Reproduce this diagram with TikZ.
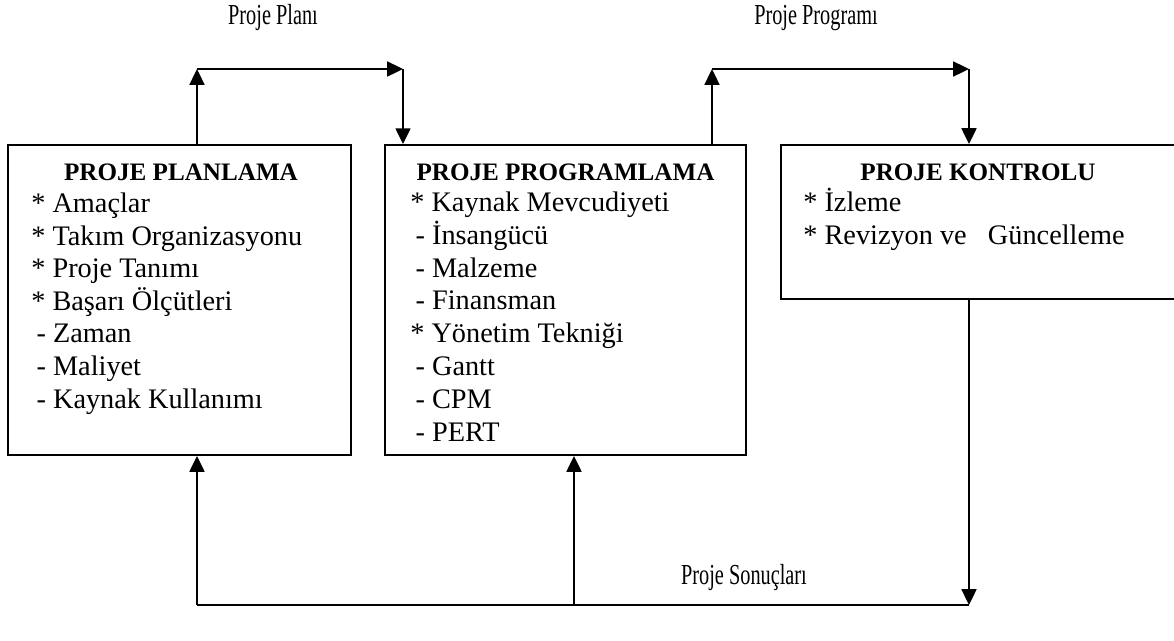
\documentclass[tikz,border=0pt]{standalone}
\usepackage{fontspec}
\setmainfont{Liberation Serif}
\newfontfamily\narrowserif[FakeStretch=0.7]{Liberation Serif}
\usetikzlibrary{arrows.meta,positioning}

\begin{document}
\begin{tikzpicture}[x=0.02cm, y=-0.02cm,
    box/.style={draw, black, line width=1.1pt, inner sep=0pt},
    head/.style={font=\bfseries\fontsize{14.3}{17}\selectfont},
    entry/.style={anchor=base west, inner sep=0pt, font=\fontsize{16.1}{18}\selectfont},
    tag/.style={font=\narrowserif\fontsize{16.5}{18}\selectfont},
    flow/.style={black, line width=1.1pt, -{Triangle[length=9pt,width=8.5pt]}}]
    \useasboundingbox (0,0) rectangle (1174,640);

    \node[box, minimum width=6.86cm, minimum height=6.2cm] (plan) at (179.5,300) {};
    \node[box, minimum width=7.22cm, minimum height=6.2cm] (prog) at (565.5,300) {};
    \node[box, minimum width=7.9cm, minimum height=3.08cm] (ctrl) at (978.5,222) {};

    \node[head] (plan-t) at (181,172) {PROJE PLANLAMA};
    \node[head] (prog-t) at (565.5,172) {PROJE PROGRAMLAMA};
    \node[head] (ctrl-t) at (978,172) {PROJE KONTROLU};

    \foreach \t [count=\i] in {* Amaçlar, * Takım Organizasyonu, * Proje Tanımı, * Başarı Ölçütleri,
        \hspace{3pt}- Zaman, \hspace{3pt}- Maliyet, \hspace{3pt}- Kaynak Kullanımı} {
        \node[entry] (plan-\i) at (31, 212.5+32.6*\i-32.6) {\t};
    }
    \foreach \t [count=\i] in {* Kaynak Mevcudiyeti, \hspace{3pt}- İnsangücü, \hspace{3pt}- Malzeme,
        \hspace{3pt}- Finansman, * Yönetim Tekniği, \hspace{3pt}- Gantt, \hspace{3pt}- CPM, \hspace{3pt}- PERT} {
        \node[entry] (prog-\i) at (410, 211.5+32.8*\i-32.8) {\t};
    }
    \foreach \t [count=\i] in {* İzleme, * Revizyon ve~~~Güncelleme} {
        \node[entry] (ctrl-\i) at (803, 211.5+33*\i-33) {\t};
    }

    \coordinate (pl-up) at (197,69);
    \coordinate (pr-in) at (403,69);
    \coordinate (pr-up) at (712,69);
    \coordinate (ct-in) at (969,69);
    \coordinate (ct-out) at (969,605);
    \coordinate (pl-back) at (197,605);
    \coordinate (pr-back) at (574,605);

    \draw[flow] (plan.north -| pl-up) -- (pl-up);
    \draw[flow] (pl-up) -- (pr-in);
    \draw[flow] (pr-in) -- (prog.north -| pr-in);
    \draw[flow] (prog.north -| pr-up) -- (pr-up);
    \draw[flow] (pr-up) -- (ct-in);
    \draw[flow] (ct-in) -- (ctrl.north -| ct-in);
    \draw[flow] (ctrl.south -| ct-out) -- (ct-out);
    \draw[black, line width=1.1pt] (ct-out) -- (pl-back);
    \draw[flow] (pl-back) -- (plan.south -| pl-back);
    \draw[flow] (pr-back) -- (prog.south -| pr-back);

    \node[tag] (plan-lbl) at (273,18) {Proje Planı};
    \node[tag] (prog-lbl) at (816,18) {Proje Programı};
    \node[tag] (res-lbl) at (744,578) {Proje Sonuçları};
\end{tikzpicture}
\end{document}
